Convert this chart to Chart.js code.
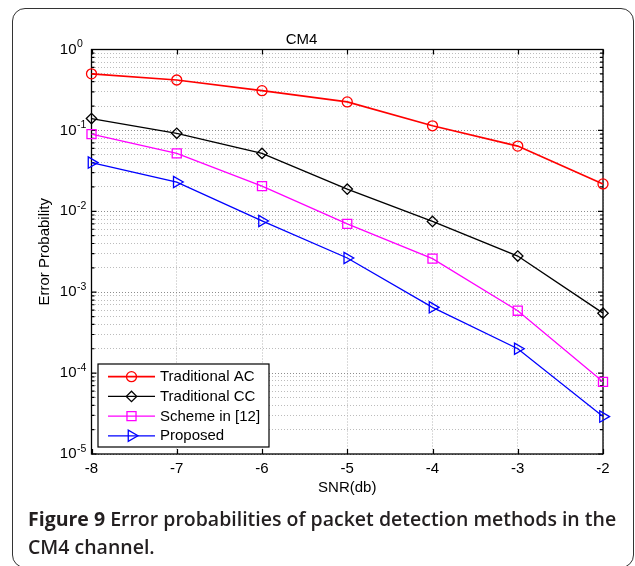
<!DOCTYPE html>
<html><head><meta charset="utf-8">
<script src="https://cdn.jsdelivr.net/npm/chart.js@4.4.1/dist/chart.umd.min.js"></script>
<style>
html,body{margin:0;padding:0;background:#fff;}
#wrap{position:relative;width:635px;height:566px;overflow:hidden;}
#frame{position:absolute;left:12px;top:8px;width:622px;height:560px;box-sizing:border-box;border:1.5px solid #333;border-radius:13px;}
#cv{position:absolute;left:0;top:0;}
#cap{position:absolute;left:28px;top:505px;font-family:'Open Sans',sans-serif;font-size:19.5px;line-height:28px;color:#231f20;font-weight:600;white-space:nowrap;}
#cap b{font-weight:700;}
</style></head>
<body><div id="wrap"><div id="frame"></div><canvas id="cv" width="635" height="566"></canvas><div id="cap"><b>Figure 9</b> Error probabilities of packet detection methods in the<br>CM4 channel.</div></div>
<script>
// ---- data ----
const snr = [-8, -7, -6, -5, -4, -3, -2];
const tradAC = [0.50, 0.42, 0.31, 0.225, 0.114, 0.064, 0.0218];
const tradCC = [0.14, 0.092, 0.052, 0.0188, 0.0075, 0.0028, 0.00055];
const scheme12 = [0.090, 0.052, 0.0205, 0.0070, 0.0026, 0.00059, 0.000078];
const proposed = [0.040, 0.023, 0.0076, 0.00265, 0.00065, 0.00020, 0.000029];
const seriesNames = ['Traditional AC', 'Traditional CC', 'Scheme in [12]', 'Proposed'];
const yDecadeExps = [-5, -4, -3, -2, -1, 0];
const yMantissas = [1, 2, 3, 4, 5, 6, 7, 8, 9];
const xTickValues = [-8, -7, -6, -5, -4, -3, -2];

const FONT = '"Liberation Sans", Arial, Helvetica, sans-serif';
Chart.defaults.color = '#000';
Chart.defaults.font.family = FONT;

const yTickValues = [];
yDecadeExps.forEach(e => {
  if (e === 0) { yTickValues.push(1); return; }
  yMantissas.forEach(m => yTickValues.push(m * Math.pow(10, e)));
});
const isDecade = v => Math.abs(Math.log10(v) - Math.round(Math.log10(v))) < 1e-9;

function mk(label, arr, color, lw, style, radius, rot) {
  return {
    label, data: snr.map((x, i) => ({x, y: arr[i]})),
    borderColor: color, backgroundColor: 'rgba(0,0,0,0)', borderWidth: lw,
    pointStyle: style, pointRadius: radius, pointRotation: rot || 0,
    pointBorderColor: color, pointBackgroundColor: 'rgba(0,0,0,0)', pointBorderWidth: 1.3,
    tension: 0, clip: false
  };
}
const datasets = [
  mk(seriesNames[0], tradAC, '#ff0000', 1.7, 'circle', 5),
  mk(seriesNames[1], tradCC, '#000000', 1.4, 'rectRot', 5.2),
  mk(seriesNames[2], scheme12, '#ff00ff', 1.3, 'rect', 6.4),
  mk(seriesNames[3], proposed, '#0000ff', 1.3, 'triangle', 6.5, 90)
];

function drawMarker(ctx, style, r, rot, x, y) {
  if (Chart.helpers && Chart.helpers.drawPoint) {
    Chart.helpers.drawPoint(ctx, {pointStyle: style, radius: r, rotation: rot || 0, borderWidth: 1.3}, x, y);
  }
}

const decor = {
  id: 'decor',
  beforeDatasetsDraw(chart) {
    const {ctx, chartArea: a, scales: {x, y}} = chart;
    ctx.save();
    ctx.strokeStyle = '#000'; ctx.lineWidth = 1.2; ctx.setLineDash([]);
    ctx.beginPath();
    xTickValues.forEach(v => {
      const px = Math.round(x.getPixelForValue(v)) + 0.5;
      ctx.moveTo(px, a.bottom); ctx.lineTo(px, a.bottom - 5);
      ctx.moveTo(px, a.top); ctx.lineTo(px, a.top + 5);
    });
    yTickValues.forEach(v => {
      const py = y.getPixelForValue(v);
      const len = isDecade(v) ? 5 : 3;
      ctx.moveTo(a.left, py); ctx.lineTo(a.left + len, py);
      ctx.moveTo(a.right, py); ctx.lineTo(a.right - len, py);
    });
    ctx.stroke();
    ctx.lineWidth = 1.3;
    ctx.strokeRect(a.left, a.top, a.right - a.left, a.bottom - a.top);
    ctx.fillStyle = '#000';
    yDecadeExps.forEach(e => {
      const py = y.getPixelForValue(Math.pow(10, e));
      ctx.font = '15px ' + FONT; ctx.textAlign = 'right'; ctx.textBaseline = 'middle';
      ctx.fillText('10', a.left - 15, py);
      ctx.font = '10.5px ' + FONT; ctx.textAlign = 'left'; ctx.textBaseline = 'alphabetic';
      ctx.fillText(String(e), a.left - 14.5, py - 2.5);
    });
    ctx.restore();
  },
  afterDatasetsDraw(chart) {
    const {ctx, chartArea: a} = chart;
    ctx.save();
    const bx = a.left + 6.5, by = a.bottom - 90, bw = 171, bh = 83;
    ctx.fillStyle = '#fff'; ctx.fillRect(bx, by, bw, bh);
    ctx.strokeStyle = '#000'; ctx.lineWidth = 1.2; ctx.strokeRect(bx, by, bw, bh);
    chart.data.datasets.forEach((ds, i) => {
      const cy = by + 12.7 + i * 19.7;
      ctx.strokeStyle = ds.borderColor; ctx.lineWidth = ds.borderWidth;
      ctx.beginPath(); ctx.moveTo(bx + 10, cy); ctx.lineTo(bx + 57, cy); ctx.stroke();
      ctx.fillStyle = 'rgba(0,0,0,0)'; ctx.lineWidth = 1.3;
      drawMarker(ctx, ds.pointStyle, ds.pointRadius, ds.pointRotation, bx + 33.5, cy);
      ctx.fillStyle = '#000'; ctx.font = '15px ' + FONT; ctx.textAlign = 'left'; ctx.textBaseline = 'middle';
      ctx.fillText(ds.label, bx + 62, cy + 0.5);
    });
    ctx.restore();
  }
};

new Chart(document.getElementById('cv'), {
  type: 'line',
  data: {datasets},
  options: {
    responsive: false, animation: false, events: [],
    layout: {padding: {left: 0, right: 32, top: 0, bottom: 62}},
    plugins: {
      legend: {display: false}, tooltip: {enabled: false},
      title: {display: true, text: 'CM4', font: {size: 15, weight: 'normal', family: FONT}, color: '#000', padding: {top: 31, bottom: 0.5}}
    },
    scales: {
      x: {
        type: 'linear', min: -8, max: -2,
        afterFit: s => { s.height = 50; },
        afterBuildTicks: s => { s.ticks = xTickValues.map(v => ({value: v})); },
        ticks: {padding: 6, font: {size: 15}, color: '#000', callback: v => String(v)},
        grid: {color: '#b4b4b4', lineWidth: 1, drawTicks: false},
        border: {display: false, dash: [1, 2]},
        title: {display: true, text: 'SNR(db)', font: {size: 15}, color: '#000', padding: {top: 0, bottom: 7.5}}
      },
      y: {
        type: 'logarithmic', min: 1e-5, max: 1,
        afterFit: s => { s.width = 91.5; },
        afterBuildTicks: s => { s.ticks = yTickValues.map(v => ({value: v, major: isDecade(v)})); },
        ticks: {display: false},
        grid: {color: c => (c.tick && isDecade(c.tick.value)) ? '#8c8c8c' : '#bcbcbc', lineWidth: 1, drawTicks: false},
        border: {display: false, dash: [1, 2]},
        title: {display: true, text: 'Error Probability', font: {size: 15}, color: '#000', padding: {top: 36, bottom: 0}}
      }
    }
  },
  plugins: [decor]
});
</script>
</body></html>
